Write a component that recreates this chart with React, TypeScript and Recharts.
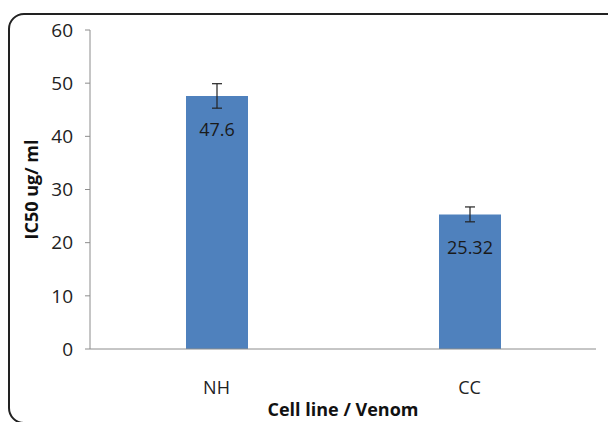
import React from "react";
import { BarChart, Bar, XAxis, YAxis, ErrorBar, LabelList } from "recharts";

const cellLines = ["NH", "CC"];
const ic50Values = [47.6, 25.32];
const ic50Errors = [2.3, 1.4];
const yTicks = [0, 10, 20, 30, 40, 50, 60];

const data = cellLines.map((name, i) => ({ name, ic50: ic50Values[i], err: ic50Errors[i] }));

const FONT = "'Open Sans', sans-serif";

// value printed a bit below the top edge of each bar
const InsideLabel = (props: any) => {
  const { x, y, width, value } = props;
  return (
    <text
      x={x + width / 2}
      y={y + 35}
      textAnchor="middle"
      dominantBaseline="middle"
      fontSize={18}
      fontFamily={FONT}
      fill="#1a1a1a"
    >
      {value}
    </text>
  );
};

const App: React.FC = () => {
  return (
    <div style={{ position: "fixed", left: 0, top: 0, width: 608, height: 422, overflow: "hidden", background: "#fff" }}>
      <div
        style={{
          position: "absolute",
          left: 8,
          top: 13,
          width: 630,
          height: 411,
          border: "2px solid #222",
          borderRadius: 16,
          boxSizing: "border-box",
        }}
      />
      <div style={{ position: "absolute", left: 0, top: 0 }}>
        <BarChart width={608} height={422} data={data} margin={{ top: 30, right: 12, left: 0, bottom: 0 }}>
          <XAxis
            dataKey="name"
            height={73}
            fontSize={18}
            fontFamily={FONT}
            axisLine={{ stroke: "#8c8c8c" }}
            tickLine={false}
            tickMargin={26}
            tick={{ fill: "#222", fontSize: 18, fontFamily: FONT }}
            label={{
              value: "Cell line / Venom",
              position: "insideBottom",
              offset: 6,
              fontSize: 18,
              style: { fill: "#111", fontSize: 18, fontWeight: 700, fontFamily: FONT },
            }}
          />
          <YAxis
            width={90}
            domain={[0, 60]}
            ticks={yTicks}
            interval={0}
            fontSize={19}
            fontFamily={FONT}
            axisLine={{ stroke: "#8c8c8c" }}
            tickLine={{ stroke: "#8c8c8c" }}
            tickSize={5}
            tickMargin={12}
            tick={{ fill: "#222", fontSize: 19, fontFamily: FONT }}
            label={{
              value: "IC50 ug/ ml",
              angle: -90,
              position: "insideLeft",
              offset: 32,
              fontSize: 18,
              style: { fill: "#111", fontSize: 18, fontWeight: 700, fontFamily: FONT, textAnchor: "middle" },
            }}
          />
          <Bar dataKey="ic50" fill="#4f81bd" barSize={62} isAnimationActive={false}>
            <ErrorBar dataKey="err" width={5} stroke="#222" strokeWidth={1.2} direction="y" />
            <LabelList dataKey="ic50" content={InsideLabel} />
          </Bar>
        </BarChart>
      </div>
    </div>
  );
};

export default App;
